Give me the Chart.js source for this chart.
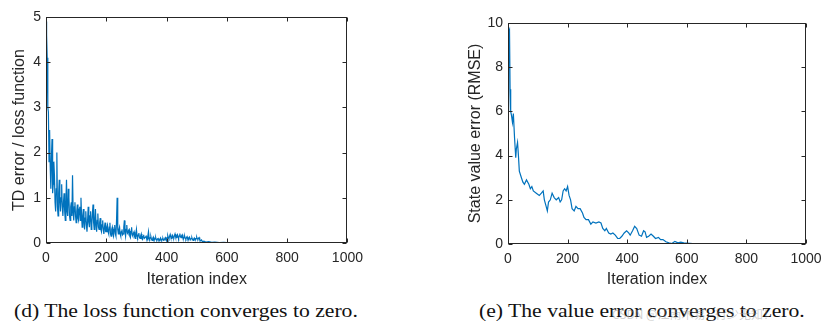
<!DOCTYPE html>
<html>
<head>
<meta charset="utf-8">
<script src="https://cdn.jsdelivr.net/npm/chart.js@4.4.1/dist/chart.umd.min.js"></script>
<style>
  html, body { margin: 0; padding: 0; background: #fff; }
  body { width: 831px; height: 327px; position: relative; overflow: hidden; }
  canvas { position: absolute; top: 0; }
  #lossChart { left: 0; }
  #rmseChart { left: 440px; }
  .caption { position: absolute; top: 300px; font-family: "Liberation Serif", "DejaVu Serif", serif; font-size: 19px; color: #111; white-space: nowrap; transform: scaleX(1.14); transform-origin: left top; }
  .mark { position: absolute; top: 305px; left: 612px; font-family: "Noto Sans CJK SC", sans-serif; font-size: 12px; color: rgba(150,150,150,0.45); white-space: nowrap; }
</style>
</head>
<body>
<canvas id="lossChart" width="370" height="290"></canvas>
<canvas id="rmseChart" width="391" height="290"></canvas>
<div class="caption" style="left:14px">(d) The loss function converges to zero.</div>
<div class="caption" style="left:479px">(e) The value error converges to zero.</div>
<div class="mark">CSDN @江南木易 - 行少无知！</div>
<script>
const LINE_COLOR = "#0072BD";
const AXIS_COLOR = "#262626";

// x ticks shared by both panels
const xTicks = [0, 200, 400, 600, 800, 1000];

// (d) TD error / loss, one sample every 2 iterations from 0 to 520
const lossStep = 2;
const lossValues = [
  4.9, 4.6, 4.1, 3.0, 2.9, 1.8, 2.5, 1.7, 1.2, 1.9, 2.3, 1.1, 1.3, 1.8, 1.5, 0.9, 0.7, 1.2, 2.0, 0.8,
  0.6, 1.1, 1.4, 0.9, 0.7, 1.0, 1.3, 0.8, 0.6, 0.9, 1.1, 0.7, 0.5, 0.9, 1.4, 0.7, 0.6, 1.2, 1.0, 0.6,
  0.5, 0.8, 0.9, 0.6, 1.5, 0.7, 0.5, 0.8, 0.9, 0.6, 0.45, 0.7, 0.85, 0.55, 0.5, 0.75, 0.8, 0.5, 1.0, 0.6,
  0.35, 0.6, 0.75, 0.45, 0.3, 0.55, 0.7, 0.4, 0.25, 0.5, 0.8, 0.45, 0.35, 0.6, 0.7, 0.3, 0.4, 0.65, 0.85, 0.45,
  0.3, 0.55, 0.75, 0.4, 0.25, 0.5, 0.65, 0.35, 0.3, 0.45, 0.55, 0.3, 0.25, 0.4, 0.5, 0.3, 0.2, 0.35, 0.45, 0.25,
  0.25, 0.35, 0.4, 0.25, 0.2, 0.35, 0.45, 0.2, 0.15, 0.3, 0.35, 0.2, 0.15, 0.3, 0.4, 0.2, 0.15, 0.5, 1.0, 0.3,
  0.2, 0.3, 0.35, 0.2, 0.15, 0.25, 0.3, 0.18, 0.2, 0.35, 0.5, 0.25, 0.15, 0.3, 0.4, 0.22, 0.2, 0.28, 0.3, 0.15,
  0.12, 0.25, 0.35, 0.18, 0.15, 0.22, 0.25, 0.14, 0.1, 0.2, 0.3, 0.15, 0.12, 0.18, 0.22, 0.12, 0.1, 0.16, 0.2, 0.1,
  0.08, 0.14, 0.18, 0.1, 0.1, 0.13, 0.15, 0.09, 0.07, 0.16, 0.25, 0.1, 0.08, 0.12, 0.14, 0.08, 0.06, 0.1, 0.13, 0.07,
  0.07, 0.1, 0.12, 0.07, 0.06, 0.09, 0.1, 0.06, 0.05, 0.08, 0.11, 0.07, 0.06, 0.09, 0.1, 0.06, 0.07, 0.1, 0.12, 0.08,
  0.06, 0.12, 0.16, 0.11, 0.09, 0.15, 0.19, 0.13, 0.1, 0.14, 0.17, 0.12, 0.11, 0.16, 0.2, 0.14, 0.12, 0.17, 0.19, 0.13,
  0.1, 0.16, 0.21, 0.14, 0.12, 0.16, 0.18, 0.12, 0.09, 0.13, 0.15, 0.1, 0.08, 0.12, 0.14, 0.09, 0.07, 0.11, 0.13, 0.09,
  0.08, 0.1, 0.12, 0.08, 0.06, 0.09, 0.11, 0.08, 0.07, 0.1, 0.13, 0.09, 0.08, 0.11, 0.12, 0.07, 0.05, 0.06, 0.07, 0.04,
  0.03
];
// tail of the loss curve
const lossTailIter = [524, 530, 540, 550, 560, 575, 590, 610, 650, 700, 800, 1000];
const lossTailValues = [0.04, 0.02, 0.03, 0.015, 0.02, 0.01, 0.012, 0.006, 0.004, 0.003, 0.002, 0.001];
const lossYTicks = [0, 1, 2, 3, 4, 5];

// (e) state value error (RMSE)
const rmseIter = [
  0, 2, 5, 7, 9, 12, 15, 18, 22, 26, 28, 32, 35, 38, 45, 50, 55, 62, 70, 75,
  80, 85, 95, 105, 112, 118, 122, 128, 132, 136, 142, 148, 155, 162, 170, 175, 180, 185, 190, 195,
  200, 205, 210, 215, 222, 228, 235, 242, 250, 255, 262, 270, 278, 285, 295, 305, 312, 318, 325, 330,
  338, 345, 352, 360, 368, 375, 382, 390, 398, 405, 410, 418, 425, 432, 440, 448, 455, 460, 465, 472,
  480, 488, 495, 505, 512, 520, 530, 540, 550, 560, 570, 580, 590, 600, 620, 700, 1000
];
const rmseValues = [
  6.0, 9.6, 9.7, 7.0, 6.0, 5.8, 5.5, 5.9, 4.8, 3.9, 4.3, 4.6, 4.0, 3.3, 3.0, 2.8, 2.7, 2.9, 2.7, 2.5,
  2.6, 2.4, 2.3, 2.2, 2.3, 2.4, 2.0, 1.7, 1.5, 1.9, 2.0, 2.3, 2.1, 2.0, 2.1, 1.9, 2.0, 2.4, 2.5, 2.4,
  2.6, 2.2, 2.0, 1.6, 1.5, 1.7, 1.6, 1.6, 1.4, 1.2, 1.1, 1.1, 0.9, 1.0, 0.95, 1.0, 0.95, 0.7, 0.6, 0.7,
  0.5, 0.45, 0.5, 0.4, 0.25, 0.25, 0.35, 0.5, 0.6, 0.5, 0.4, 0.6, 0.8, 0.7, 0.4, 0.35, 0.6, 0.55, 0.3, 0.35,
  0.45, 0.35, 0.25, 0.3, 0.2, 0.2, 0.1, 0.05, 0.02, 0.12, 0.05, 0.08, 0.05, 0.04, 0.02, 0.01, 0.0
];
const rmseYTicks = [0, 2, 4, 6, 8, 10];

const lossPoints = lossValues.map((v, i) => ({ x: i * lossStep, y: v }))
  .concat(lossTailIter.map((x, i) => ({ x, y: lossTailValues[i] })));
const rmsePoints = rmseIter.map((x, i) => ({ x, y: rmseValues[i] }));

// MATLAB style box with inward tick marks
const boxPlugin = {
  id: "matlabBox",
  afterDraw(chart) {
    const { ctx, chartArea: a, scales } = chart;
    const L = Math.round(a.left) + 0.5, R = Math.round(a.right) - 0.5;
    const T = Math.round(a.top) + 0.5, B = Math.round(a.bottom) - 0.5;
    const len = 4;
    ctx.save();
    ctx.strokeStyle = AXIS_COLOR;
    ctx.lineWidth = 1;
    ctx.strokeRect(L, T, R - L, B - T);
    ctx.beginPath();
    chart.options.plugins.matlabBox.xTicks.forEach((v) => {
      const px = Math.round(scales.x.getPixelForValue(v)) + 0.5;
      ctx.moveTo(px, B); ctx.lineTo(px, B - len);
      ctx.moveTo(px, T); ctx.lineTo(px, T + len);
    });
    chart.options.plugins.matlabBox.yTicks.forEach((v) => {
      const py = Math.round(scales.y.getPixelForValue(v)) + 0.5;
      ctx.moveTo(L, py); ctx.lineTo(L + len, py);
      ctx.moveTo(R, py); ctx.lineTo(R - len, py);
    });
    ctx.stroke();
    ctx.restore();
  }
};

function makeChart(id, points, yMax, yStep, yTicks, yTitle, layout) {
  const tickFont = { family: "'Liberation Sans', Arial, sans-serif", size: 14 };
  const titleFont = { family: "'Liberation Sans', Arial, sans-serif", size: 16 };
  return new Chart(document.getElementById(id), {
    type: "line",
    data: { datasets: [{ data: points, borderColor: LINE_COLOR, borderWidth: layout.lineWidth, pointRadius: 0, tension: 0, fill: false }] },
    options: {
      responsive: false,
      devicePixelRatio: 1,
      animation: false,
      layout: { padding: layout.padding },
      plugins: {
        legend: { display: false },
        tooltip: { enabled: false },
        matlabBox: { xTicks, yTicks },
      },
      scales: {
        x: {
          type: "linear", min: 0, max: 1000,
          grid: { display: false, drawTicks: false },
          border: { display: false },
          ticks: { stepSize: 200, color: AXIS_COLOR, font: tickFont, padding: 7, maxRotation: 0, callback: (v) => String(v) },
          title: { display: true, text: "Iteration index", color: AXIS_COLOR, font: titleFont, padding: { top: 0, bottom: 1 } },
          afterFit: (s) => { s.height = layout.xHeight; },
        },
        y: {
          type: "linear", min: 0, max: yMax,
          grid: { display: false, drawTicks: false },
          border: { display: false },
          ticks: { stepSize: yStep, color: AXIS_COLOR, font: tickFont, padding: 5, callback: (v) => String(v) },
          title: { display: true, text: yTitle, color: AXIS_COLOR, font: titleFont, padding: { top: 0, bottom: 4 } },
          afterFit: (s) => { s.width = layout.yWidth; },
        },
      },
    },
    plugins: [boxPlugin],
  });
}

makeChart("lossChart", lossPoints, 5, 1, lossYTicks, "TD error / loss function",
  { padding: { left: 10, right: 20, top: 17, bottom: 0 }, yWidth: 36, xHeight: 47, lineWidth: 1.2 });
makeChart("rmseChart", rmsePoints, 10, 2, rmseYTicks, "State value error (RMSE)",
  { padding: { left: 26, right: 25, top: 23, bottom: 0 }, yWidth: 42, xHeight: 46, lineWidth: 1.2 });
</script>
</body>
</html>
